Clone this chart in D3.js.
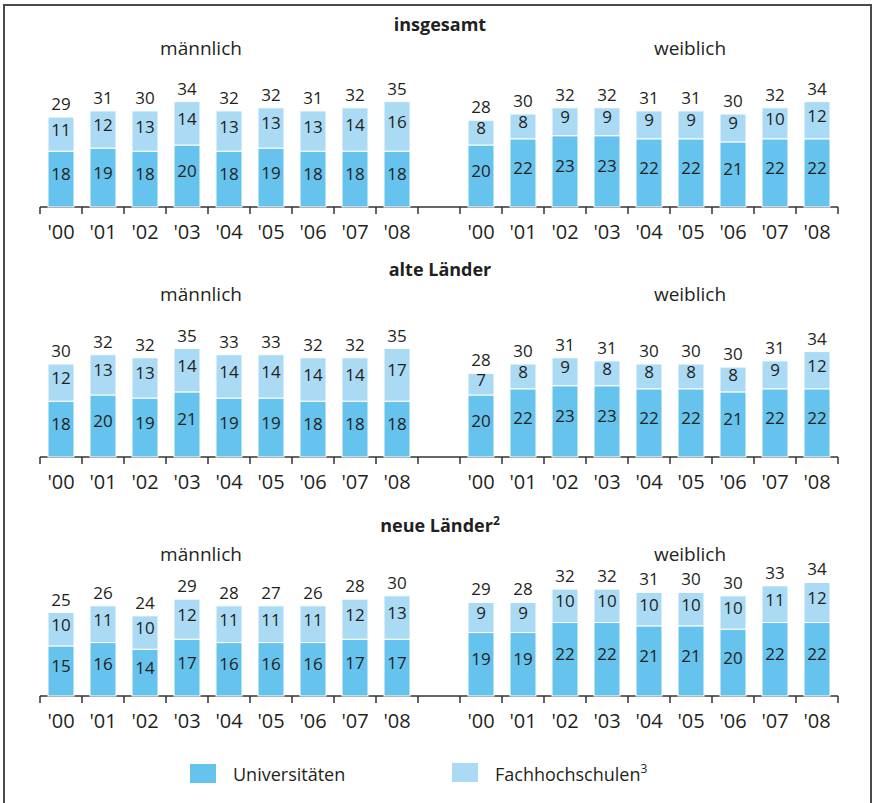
<!DOCTYPE html>
<html><head><meta charset="utf-8">
<script src="https://cdn.jsdelivr.net/npm/d3@7"></script>
<style>
html,body{margin:0;padding:0;background:#fff;}
text{font-family:"Open Sans","Noto Sans",sans-serif;fill:#231f20;}
</style></head>
<body>
<script>
const years = ["'00","'01","'02","'03","'04","'05","'06","'07","'08"];
const seriesNames = ["Universitäten","Fachhochschulen"];
const panelTitles = ["insgesamt","alte Länder","neue Länder"];
const groupNames = ["männlich","weiblich"];

// insgesamt
const p1MaleUni   = [18,19,18,20,18,19,18,18,18];
const p1MaleFh    = [11,12,13,14,13,13,13,14,16];
const p1MaleTot   = [29,31,30,34,32,32,31,32,35];
const p1FemUni    = [20,22,23,23,22,22,21,22,22];
const p1FemFh     = [8,8,9,9,9,9,9,10,12];
const p1FemTot    = [28,30,32,32,31,31,30,32,34];
// alte Länder
const p2MaleUni   = [18,20,19,21,19,19,18,18,18];
const p2MaleFh    = [12,13,13,14,14,14,14,14,17];
const p2MaleTot   = [30,32,32,35,33,33,32,32,35];
const p2FemUni    = [20,22,23,23,22,22,21,22,22];
const p2FemFh     = [7,8,9,8,8,8,8,9,12];
const p2FemTot    = [28,30,31,31,30,30,30,31,34];
// neue Länder
const p3MaleUni   = [15,16,14,17,16,16,16,17,17];
const p3MaleFh    = [10,11,10,12,11,11,11,12,13];
const p3MaleTot   = [25,26,24,29,28,27,26,28,30];
const p3FemUni    = [19,19,22,22,21,21,20,22,22];
const p3FemFh     = [9,9,10,10,10,10,10,11,12];
const p3FemTot    = [29,28,32,32,31,30,30,33,34];

const colUni = "#66c3ed";
const colFh = "#abdaf4";

const W = 873, H = 803;
const svg = d3.select("body").append("svg").attr("width", W).attr("height", H);

svg.append("rect").attr("x",4).attr("y",5).attr("width",867).attr("height",820)
  .attr("fill","none").attr("stroke","#4a4a4a").attr("stroke-width",2);

const panels = [
  {title: panelTitles[0], sup: null, base: 207, k: 3.1, titleY: 31, groupY: 55,
   data: [[p1MaleUni,p1MaleFh,p1MaleTot],[p1FemUni,p1FemFh,p1FemTot]]},
  {title: panelTitles[1], sup: null, base: 457, k: 3.1, titleY: 276, groupY: 301,
   data: [[p2MaleUni,p2MaleFh,p2MaleTot],[p2FemUni,p2FemFh,p2FemTot]]},
  {title: panelTitles[2], sup: "2", base: 696, k: 3.34, titleY: 532, groupY: 561,
   data: [[p3MaleUni,p3MaleFh,p3MaleTot],[p3FemUni,p3FemFh,p3FemTot]]}
];

const groupRanges = [[40,418],[460,838]];
const groupLabelX = [201, 690];

panels.forEach(p => {
  const g = svg.append("g");
  const t = g.append("text").attr("x",440).attr("y",p.titleY).attr("text-anchor","middle")
    .attr("font-size",18).attr("font-weight","bold").text(p.title);
  if (p.sup) t.append("tspan").attr("font-size",12).attr("dy",-7).text(p.sup);

  const y = d3.scaleLinear().domain([0,40]).range([p.base, p.base - 40*p.k]);

  g.append("line").attr("x1",groupRanges[0][0]).attr("x2",groupRanges[1][1])
    .attr("y1",p.base).attr("y2",p.base).attr("stroke","#333").attr("stroke-width",1.5);

  p.data.forEach((gd, gi) => {
    const [uni, fh, tot] = gd;
    const x = d3.scaleBand().domain(years).range(groupRanges[gi])
      .paddingInner(16/42).paddingOuter(8/42);
    g.append("text").attr("x",groupLabelX[gi]).attr("y",p.groupY).attr("text-anchor","middle")
      .attr("font-size",19).text(groupNames[gi]);

    const bounds = d3.range(years.length+1).map(i => x.range()[0] + i*x.step());
    g.selectAll(null).data(bounds).join("line")
      .attr("x1",d=>d).attr("x2",d=>d).attr("y1",p.base).attr("y2",p.base+7)
      .attr("stroke","#333").attr("stroke-width",1.5);

    const ax = g.append("g").attr("transform",`translate(0,${p.base})`)
      .call(d3.axisBottom(x).tickSize(0).tickPadding(18));
    ax.select(".domain").remove();
    ax.selectAll("text").attr("font-size",20).attr("fill","#231f20")
      .style("font-family",'"Open Sans","Noto Sans",sans-serif');

    const rows = years.map((yr,i)=>({yr, uni:uni[i], fh:fh[i], tot:tot[i]}));
    g.selectAll(null).data(rows).join("rect")
      .attr("x",d=>x(d.yr)).attr("width",x.bandwidth())
      .attr("y",d=>y(d.uni)).attr("height",d=>y(0)-y(d.uni))
      .attr("fill",colUni).attr("stroke","#fff").attr("stroke-width",1);
    g.selectAll(null).data(rows).join("rect")
      .attr("x",d=>x(d.yr)).attr("width",x.bandwidth())
      .attr("y",d=>y(d.uni+d.fh)).attr("height",d=>y(d.uni)-y(d.uni+d.fh))
      .attr("fill",colFh).attr("stroke","#fff").attr("stroke-width",1);
    g.selectAll(null).data(rows).join("text")
      .attr("x",d=>x(d.yr)+x.bandwidth()/2).attr("y",d=>(y(0)+y(d.uni))/2+1)
      .attr("text-anchor","middle").attr("font-size",17).text(d=>d.uni);
    g.selectAll(null).data(rows).join("text")
      .attr("x",d=>x(d.yr)+x.bandwidth()/2).attr("y",d=>(y(d.uni)+y(d.uni+d.fh))/2+1.5)
      .attr("text-anchor","middle").attr("font-size",17).text(d=>d.fh);
    g.selectAll(null).data(rows).join("text")
      .attr("x",d=>x(d.yr)+x.bandwidth()/2).attr("y",d=>y(d.uni+d.fh)-7)
      .attr("text-anchor","middle").attr("font-size",17).text(d=>d.tot);
  });
});

const legend = [
  {name: seriesNames[0], sup: null, color: colUni, x: 190, y: 764},
  {name: seriesNames[1], sup: "3", color: colFh, x: 452, y: 763}
];
legend.forEach(l => {
  svg.append("rect").attr("x",l.x).attr("y",l.y).attr("width",26).attr("height",19).attr("fill",l.color);
  const t = svg.append("text").attr("x",l.x+43).attr("y",781).attr("font-size",18).text(l.name);
  if (l.sup) t.append("tspan").attr("font-size",12).attr("dy",-8).text(l.sup);
});
</script>
</body></html>
